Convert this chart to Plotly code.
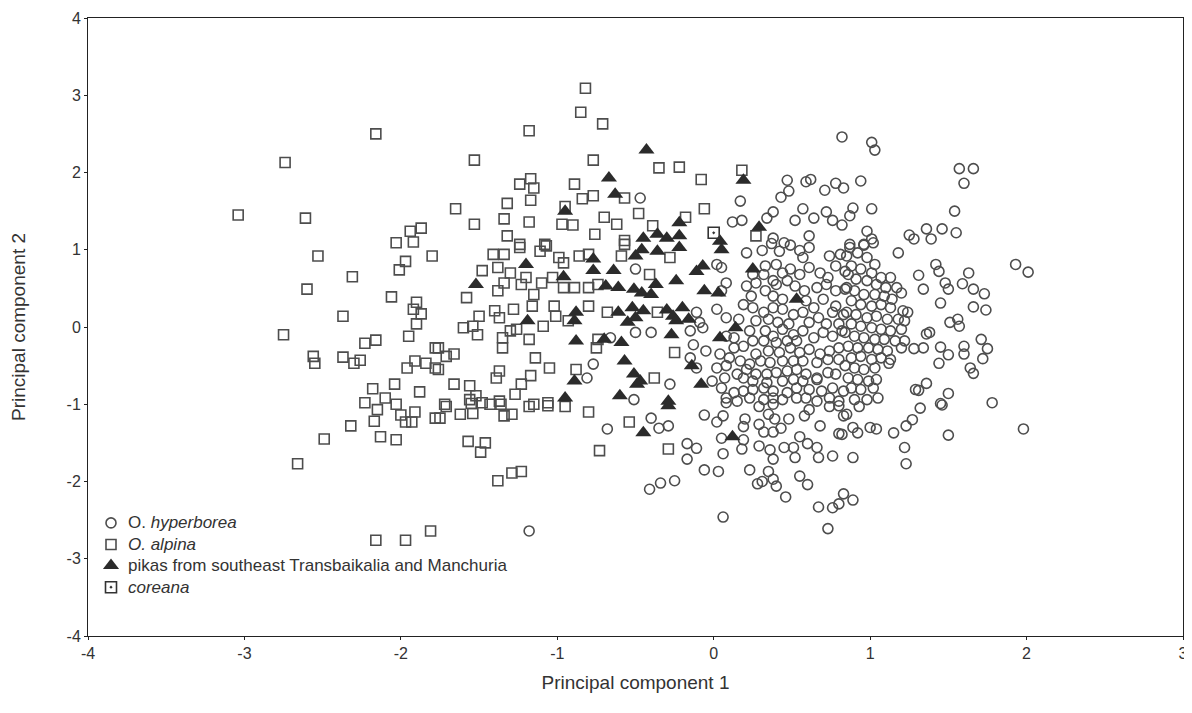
import plotly.graph_objects as go

# O. hyperborea (PC1, PC2)
hyperborea = [
    (0.17,1.63),(-0.47,1.67),(0.12,1.36),(0.18,1.38),(0.82,2.46),(0.47,1.9),(0.59,1.88),(0.62,1.91),
    (0.71,1.77),(0.78,1.86),(0.83,1.8),(0.48,1.76),(0.43,1.68),(0.38,1.49),(0.34,1.41),(0.57,1.53),
    (0.52,1.38),(0.64,1.41),(0.72,1.49),(0.76,1.38),(0.82,1.32),(0.38,1.15),(0.61,1.18),(0.45,1.09),
    (1.01,2.39),(1.03,2.29),(1.57,2.05),(1.66,2.05),(1.6,1.86),(0.94,1.89),(0.89,1.54),(1.01,1.53),
    (0.87,1.44),(1.54,1.5),(0.98,1.24),(1.01,1.14),(0.96,1.07),(1.25,1.19),(1.28,1.14),(1.36,1.27),
    (1.39,1.14),(1.46,1.27),(1.55,1.22),(0.87,1.07),
    (0.21,0.96),(0.31,0.99),(0.37,1.08),(0.42,0.98),(0.49,1.06),(0.55,0.99),(0.61,1.03),(0.57,0.9),
    (0.74,0.92),(0.81,0.94),(0.02,0.81),(0.05,0.77),
    (0.33,0.79),(0.4,0.81),(0.25,0.68),(0.32,0.68),(0.38,0.6),(0.44,0.7),(0.49,0.75),(0.55,0.68),
    (0.61,0.77),(0.68,0.7),(0.73,0.64),(0.78,0.79),(0.84,0.72),(0.08,0.57),(0.05,0.47),
    (0.21,0.53),(0.27,0.57),(0.33,0.47),(0.4,0.55),(0.47,0.6),(0.52,0.53),(0.58,0.47),(0.66,0.51),
    (0.72,0.55),(0.78,0.47),(0.85,0.51),(0.24,0.4),(0.38,0.4),(0.44,0.36),(0.59,0.34),(0.7,0.36),
    (0.78,0.27),
    (0.19,0.29),(0.25,0.25),(0.32,0.19),(0.38,0.25),(0.44,0.23),(0.51,0.16),(0.57,0.19),(0.64,0.25),
    (0.67,0.12),(0.76,0.19),(0.83,0.16),(-0.11,0.19),(0.02,0.23),(0.08,0.12),(0.16,0.1),(0.27,0.08),
    (0.35,0.1),(0.41,0.06),(0.48,0.04),(0.61,0.06),(0.72,0.04),(0.8,0.04),(-0.09,0.06),
    (0.23,-0.05),(0.33,-0.05),(0.38,-0.12),(0.44,-0.03),(0.51,-0.1),(0.57,-0.05),(0.64,-0.14),
    (0.7,-0.07),(0.76,-0.12),(0.82,-0.05),(0.13,-0.14),(-0.15,-0.05),(-0.07,-0.01),(-0.4,-0.07),
    (0.08,-0.12),(0.25,-0.18),(0.32,-0.18),(0.4,-0.2),(0.47,-0.18),(0.53,-0.18),
    (-0.13,-0.23),(-0.05,-0.31),(0.04,-0.35),(0.13,-0.27),(0.19,-0.25),(0.27,-0.35),(0.35,-0.31),
    (0.42,-0.33),(0.49,-0.27),(0.55,-0.33),(0.61,-0.29),(0.68,-0.35),(0.74,-0.31),(0.8,-0.27),
    (-0.15,-0.4),(0.1,-0.4),(0.17,-0.44),(0.23,-0.48),(0.3,-0.44),(0.36,-0.46),(0.44,-0.44),
    (0.51,-0.44),(0.57,-0.44),(0.66,-0.46),(0.73,-0.42),(0.8,-0.42),
    (-0.11,-0.53),(0.02,-0.53),(0.08,-0.5),(0.15,-0.61),(0.21,-0.55),(0.27,-0.61),(0.34,-0.61),
    (0.4,-0.59),(0.47,-0.57),(0.53,-0.55),(0.59,-0.61),(0.66,-0.66),(0.73,-0.59),(0.78,-0.61),
    (-0.01,-0.7),(0.07,-0.66),(0.19,-0.66),(0.25,-0.7),(0.34,-0.72),(0.44,-0.7),(0.51,-0.68),
    (0.57,-0.7),(0.66,-0.68),(-0.28,-0.74),
    (0.05,-0.79),(0.13,-0.85),(0.19,-0.83),(0.25,-0.81),(0.32,-0.79),(0.38,-0.83),(0.47,-0.85),
    (0.53,-0.79),(0.61,-0.81),(0.69,-0.83),(0.76,-0.79),(0.83,-0.83),(0.08,-0.92),(0.15,-0.96),
    (0.23,-0.92),(0.32,-0.94),(0.38,-0.92),(0.44,-0.94),(0.53,-0.92),(0.59,-0.92),(0.66,-0.96),
    (0.74,-0.92),(0.8,-0.96),
    (0.87,1.03),(0.96,1.06),(1.02,1.09),(0.85,0.92),(0.92,0.96),(0.98,0.9),(1.03,0.81),(0.88,0.79),
    (0.94,0.75),(1.01,0.7),(1.07,0.64),(1.13,0.64),(0.86,0.68),(0.91,0.62),(0.98,0.6),(1.04,0.55),
    (1.1,0.51),(1.17,0.51),(1.2,0.44),(0.84,0.49),(0.9,0.47),(0.96,0.42),(1.03,0.42),(1.09,0.4),
    (1.14,0.36),(0.88,0.34),(0.94,0.29),(1.01,0.27),(1.07,0.29),(1.13,0.25),(1.21,0.21),(1.24,0.19),
    (0.85,0.19),(0.91,0.16),(0.98,0.12),(1.04,0.14),(1.11,0.1),(1.18,0.1),(1.22,0.08),(0.88,0.04),
    (0.94,0.01),(1.01,-0.01),(1.07,-0.03),(1.13,-0.05),(1.2,-0.03),(0.84,-0.07),(0.9,-0.12),
    (0.96,-0.14),(1.03,-0.16),(1.09,-0.16),(1.16,-0.18),(1.22,-0.18),(0.86,-0.25),(0.92,-0.27),
    (0.99,-0.27),(1.05,-0.29),(1.11,-0.31),(1.2,-0.27),(0.88,-0.4),(0.94,-0.38),(1.01,-0.42),
    (1.07,-0.4),(1.13,-0.42),(0.84,-0.5),(0.9,-0.53),(0.96,-0.55),(1.03,-0.53),(0.86,-0.66),
    (0.92,-0.68),(0.99,-0.7),(1.04,-0.68),(0.88,-0.79),(0.94,-0.81),(1.02,-0.79),(1.05,-0.92),
    (0.98,-0.94),(0.9,-0.94),
    (1.18,0.96),(1.93,0.81),(2.01,0.71),(1.31,0.67),(1.42,0.81),(1.44,0.72),(1.63,0.7),(1.34,0.49),
    (1.48,0.57),(1.5,0.49),(1.59,0.56),(1.66,0.49),(1.73,0.43),(1.45,0.31),(1.66,0.26),(1.74,0.22),
    (1.51,0.06),(1.56,0.1),(1.57,0.01),(1.36,-0.09),(1.38,-0.07),(1.71,-0.16),(1.28,-0.28),
    (1.34,-0.27),(1.45,-0.26),(1.5,-0.36),(1.6,-0.25),(1.6,-0.35),(1.75,-0.28),(1.72,-0.41),
    (1.44,-0.47),(1.12,-0.47),(1.64,-0.53),(1.66,-0.6),(1.36,-0.73),(1.31,-0.82),(1.5,-0.86),
    (1.78,-0.98),(1.45,-0.99),(1.29,-0.81),
    (0.93,-1.03),(0.85,-1.13),(0.89,-1.3),(0.92,-1.37),(1.0,-1.3),(1.04,-1.32),(1.15,-1.37),
    (1.23,-1.28),(1.27,-1.2),(1.32,-1.05),(1.22,-1.56),(1.23,-1.77),(0.89,-1.69),(1.46,-1.01),
    (1.5,-1.4),(1.98,-1.32),(0.83,-2.16),(0.89,-2.24),(0.82,-1.39),
    (-0.41,-2.1),(-0.34,-2.02),(-0.25,-1.99),(0.06,-2.46),(-0.06,-1.85),(0.03,-1.87),(-0.17,-1.71),
    (-0.17,-1.51),(-0.11,-1.57),(0.23,-1.85),(0.28,-2.03),(0.31,-2.0),(0.35,-1.87),(0.38,-1.97),
    (0.4,-2.06),(0.46,-2.2),(0.55,-1.93),(0.6,-2.04),(0.67,-2.33),(0.76,-2.34),(0.8,-2.29),
    (0.73,-2.61),(-0.4,-1.18),(-0.35,-1.31),(-0.29,-1.28),(-0.06,-1.14),(0.02,-1.23),(0.06,-1.15),
    (0.05,-1.44),(0.06,-1.64),(0.18,-1.58),(0.2,-1.19),(0.19,-1.29),(0.19,-1.46),(0.29,-1.26),
    (0.29,-1.54),(0.32,-1.36),(0.36,-1.59),(0.38,-1.71),(0.38,-1.36),(0.43,-1.31),(0.48,-1.19),
    (0.45,-1.56),(0.51,-1.56),(0.52,-1.69),(0.55,-1.42),(0.58,-1.15),(0.61,-1.07),(0.6,-1.51),
    (0.66,-1.56),(0.68,-1.28),(0.67,-1.69),(0.76,-1.67),(0.74,-1.03),(0.8,-1.02),(0.8,-1.38),
    (0.83,-1.15),(0.29,-1.03),(0.35,-1.13),(0.38,-1.0),(0.39,-1.19),(0.08,-0.98),
    (-0.5,0.75),(-0.66,-0.14),(-0.5,-0.07),(-0.77,-0.48),(-0.81,-0.66),(-0.51,-0.94),
    (-0.68,-1.32),(-1.18,-2.64),
]

# O. alpina (PC1, PC2)
alpina = [
    (-0.82,3.09),(-0.85,2.78),(-0.71,2.63),(-1.18,2.54),(-1.53,2.16),(-0.77,2.16),(-1.24,1.85),
    (-1.17,1.92),(-1.15,1.8),(-0.89,1.85),(-1.17,1.64),(-1.32,1.6),(-1.65,1.53),(-0.84,1.66),
    (-0.77,1.7),(-0.57,1.67),(-0.95,1.56),(-1.53,1.33),(-1.34,1.4),(-1.18,1.36),(-0.97,1.33),
    (-0.9,1.32),(-0.7,1.42),(-0.62,1.33),(-0.48,1.47),(-0.76,1.2),(-1.32,1.18),(-1.24,1.07),
    (-1.08,1.07),(-0.57,1.12),
    (-0.35,2.06),(-0.22,2.07),(-0.08,1.91),(0.18,2.03),(-0.06,1.53),(-0.18,1.42),(-0.39,1.31),
    (0.27,1.18),
    (-2.16,2.5),(-2.74,2.13),(-3.04,1.45),(-2.61,1.41),(-1.94,1.24),(-1.87,1.28),(-2.03,1.09),
    (-1.92,1.1),
    (-2.53,0.92),(-2.31,0.65),(-2.6,0.49),(-2.06,0.39),(-2.37,0.14),(-2.75,-0.1),(-2.56,-0.38),
    (-2.55,-0.47),(-2.37,-0.39),(-2.3,-0.47),(-2.26,-0.43),(-2.23,-0.21),(-2.16,-0.17),
    (-1.95,-0.12),(-1.97,0.85),(-2.01,0.74),(-1.8,0.92),(-1.9,0.32),(-1.92,0.23),(-1.87,0.17),
    (-1.9,0.04),(-1.78,-0.27),(-1.91,-0.44),(-1.96,-0.53),(-1.84,-0.47),(-1.78,-0.53),
    (-2.18,-0.8),(-2.1,-0.92),(-2.04,-0.74),(-2.23,-0.98),(-2.03,-1.0),(-1.88,-0.84),
    (-2.15,-1.07),(-2.17,-1.22),(-2.0,-1.14),(-1.91,-1.1),(-1.97,-1.23),(-1.93,-1.23),
    (-1.78,-1.18),(-2.32,-1.28),(-2.49,-1.45),(-2.13,-1.42),(-2.03,-1.46),(-2.66,-1.77),
    (-2.16,-2.76),(-1.97,-2.76),(-1.81,-2.64),
    (-1.71,-1.03),(-1.75,-1.18),(-1.62,-1.13),(-1.54,-1.12),(-1.55,-0.99),(-1.43,-1.0),
    (-1.36,-1.0),(-1.34,-1.15),(-1.29,-1.13),(-1.18,-1.03),(-1.06,-1.02),(-0.95,-1.03),
    (-0.8,-1.1),(-0.54,-1.23),(-1.57,-1.48),(-1.46,-1.5),(-1.49,-1.62),(-0.73,-1.6),
    (-1.38,-1.99),(-1.29,-1.89),(-1.23,-1.87),(-0.29,-1.58),
    (-1.41,0.94),(-1.34,0.94),(-1.24,1.03),(-1.11,0.98),(-1.07,1.05),(-0.99,0.9),(-0.96,0.83),
    (-0.86,0.92),(-0.8,0.94),(-1.48,0.73),(-1.38,0.77),(-1.3,0.7),(-1.34,0.57),(-1.38,0.47),
    (-1.23,0.55),(-1.2,0.64),(-1.15,0.42),(-1.1,0.57),(-1.03,0.64),(-0.96,0.51),(-0.89,0.51),
    (-0.8,0.51),(-0.74,0.55),(-1.58,0.38),(-1.5,0.14),(-1.4,0.21),(-1.37,0.12),(-1.28,0.23),
    (-1.16,0.27),(-1.02,0.27),(-1.01,0.14),(-1.09,0.01),(-0.93,0.08),(-0.8,0.27),(-0.68,0.19),
    (-1.6,-0.01),(-1.54,0.01),(-1.51,-0.1),(-1.35,-0.14),(-1.3,-0.05),(-1.26,-0.03),(-1.18,-0.16),
    (-1.35,-0.27),(-1.76,-0.27),(-1.71,-0.38),(-1.66,-0.35),(-1.76,-0.55),(-1.14,-0.4),
    (-1.05,-0.53),(-0.88,-0.55),(-0.74,-0.16),(-0.75,-0.27),(-1.39,-0.66),(-1.37,-0.57),
    (-1.66,-0.74),(-1.56,-0.76),(-1.23,-0.74),(-1.17,-0.63),(-1.27,-0.87),(-1.52,-0.89),
    (-1.48,-0.98),(-1.72,-1.0),(-1.37,-0.96),(-1.56,-0.94),(-1.15,-1.0),(-1.06,-0.98),
    (-0.59,0.92),(-0.57,1.07),
    (-0.28,0.9),(-0.41,0.68),(-0.36,0.19),(-0.25,-0.33),(-0.38,-0.66),
]

# pikas from southeast Transbaikalia and Manchuria (PC1, PC2)
pikas = [
    (-0.67,1.93),(-0.63,1.72),(-0.95,1.5),(-0.43,2.29),(0.19,1.9),(-0.22,1.35),(0.29,1.29),
    (-0.45,1.15),(-0.36,1.2),(-0.3,1.15),(-0.22,1.18),(0.04,1.11),
    (-0.46,1.0),(-0.36,0.98),(-0.22,1.03),(0.05,1.0),(0.25,0.75),(-0.07,0.79),(-0.11,0.72),
    (-0.24,0.6),(-0.37,0.55),(-0.46,0.44),(-0.4,0.42),(-0.06,0.47),(0.03,0.44),(-0.45,0.21),
    (-0.26,0.14),(-0.24,0.08),(-0.27,-0.1),(0.04,-0.14),(0.14,-0.01),(0.53,0.36),(-0.14,-0.5),
    (-0.08,-0.74),(-0.47,-0.7),(-0.29,-0.96),(-0.2,0.25),(-0.3,0.22),(-0.16,0.1),
    (-1.2,0.81),(-1.52,0.55),(-0.96,0.65),(-0.77,0.88),(-0.77,0.73),(-0.64,0.73),(-0.69,0.53),
    (-0.61,0.51),(-0.5,0.92),(-0.51,0.49),(-1.19,0.08),(-0.88,0.19),(-0.89,0.08),(-0.61,0.19),
    (-0.52,0.25),(-0.55,0.06),(-0.5,0.12),(-0.88,-0.18),(-0.7,-0.16),(-0.59,-0.2),(-0.57,-0.44),
    (-0.51,-0.61),(-0.89,-0.7),(-0.95,-0.92),(-0.6,-0.89),(-0.49,-0.74),
    (-0.45,-1.37),(-0.29,-1.02),(0.12,-1.42),
]

# coreana (PC1, PC2)
coreana = [(0.0, 1.22)]

# legend labels and axis ticks
legend_labels = [
    "O. <i>hyperborea</i>",
    "<i>O. alpina</i>",
    "pikas from southeast Transbaikalia and Manchuria",
    "<i>coreana</i>",
]
x_ticks = [-4, -3, -2, -1, 0, 1, 2, 3]
y_ticks = [-4, -3, -2, -1, 0, 1, 2, 3, 4]


def xs(pts):
    return [p[0] for p in pts]


def ys(pts):
    return [p[1] for p in pts]


GREY = "#4d4d4d"
DARK = "#2b2b2b"
FONT = "Liberation Sans, Arial, sans-serif"
styles = [
    dict(symbol="circle-open", size=10, color=GREY, line=dict(width=1.6, color=GREY)),
    dict(symbol="square-open", size=10, color=GREY, line=dict(width=1.6, color=GREY)),
    dict(symbol="triangle-up", size=14, color=DARK, line=dict(width=0)),
    dict(symbol="square-open-dot", size=11, color="#333333", line=dict(width=1.6, color="#333333")),
]

fig = go.Figure()
for pts, name, st in zip([hyperborea, alpina, pikas, coreana], legend_labels, styles):
    fig.add_trace(go.Scatter(x=xs(pts), y=ys(pts), mode="markers", name=name,
                             marker=st, showlegend=False))

# legend keys drawn in an overlay frame of paper-like units (0..1)
key_x = 0.021
key_y = [0.183, 0.148, 0.114, 0.079]
for ky, st in zip(key_y, styles):
    fig.add_trace(go.Scatter(x=[key_x], y=[ky], mode="markers", marker=st,
                             xaxis="x2", yaxis="y2", showlegend=False, hoverinfo="skip"))
for ky, label in zip(key_y, legend_labels):
    fig.add_annotation(x=0.035, y=ky, xref="paper", yref="paper", text=label,
                       showarrow=False, xanchor="left", yanchor="middle",
                       font=dict(family=FONT, size=17, color="#333333"))

axis_common = dict(
    showgrid=False, zeroline=False, showline=True, mirror=True, linecolor="#222222",
    linewidth=1, ticks="outside", ticklen=3, tickcolor="#222222", automargin=False,
    tickfont=dict(family=FONT, size=16, color="#333333"),
)
# the page body has an 8px margin: the figure is sized so that the plot frame
# lands at x 88..1183, y 18..636 of the 1192x713 window
fig.update_layout(
    width=1184, height=705,
    margin=dict(l=80, r=9, t=10, b=77),
    paper_bgcolor="white", plot_bgcolor="white",
    font=dict(family=FONT, color="#333333"),
    showlegend=False,
    xaxis2=dict(overlaying="x", range=[0, 1], visible=False, fixedrange=True),
    yaxis2=dict(overlaying="y", range=[0, 1], visible=False, fixedrange=True),
)
fig.update_xaxes(selector=dict(overlaying=None))
fig.update_layout(
    xaxis=dict(range=[-4, 3], tickvals=x_ticks, ticktext=[str(v) for v in x_ticks],
               title=dict(text="Principal component 1", font=dict(size=19, color="#333333"), standoff=14),
               **axis_common),
    yaxis=dict(range=[-4, 4], tickvals=y_ticks, ticktext=[str(v) for v in y_ticks],
               title=dict(text="Principal component 2", font=dict(size=19, color="#333333"), standoff=40),
               **axis_common),
)

fig.write_html("out.html")
